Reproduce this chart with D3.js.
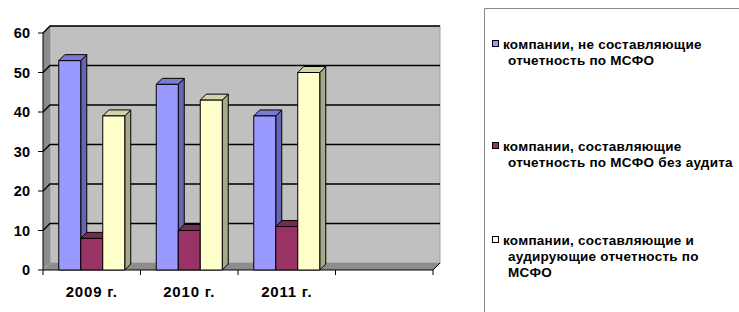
<!DOCTYPE html>
<html lang="ru">

<head>
    <meta charset="UTF-8">
    <title>Компании и МСФО</title>
    <script src="https://d3js.org/d3.v7.min.js"></script>
</head>
<style>
    body {
        margin: 0;
        background: #fff;
    }

    text {
        font-family: "Liberation Sans", Arial, sans-serif;
        font-weight: bold;
        fill: #000;
    }
</style>

<body>
    <svg id="chart"></svg>

    <script>
        // data
        var categories = ["2009 г.", "2010 г.", "2011 г.", " "];
        var seriesNames = [
            "компании, не составляющие отчетность по МСФО",
            "компании, составляющие отчетность по МСФО без аудита",
            "компании, составляющие и аудирующие отчетность по МСФО"
        ];
        var notIfrs = [53, 47, 39, null];
        var ifrsNoAudit = [8, 10, 11, null];
        var ifrsAudit = [39, 43, 50, null];
        var yTicks = [0, 10, 20, 30, 40, 50, 60];
        // legend lines as wrapped in the original
        var legendLines = [
            ["компании, не составляющие", "отчетность по МСФО"],
            ["компании, составляющие", "отчетность по МСФО без аудита"],
            ["компании, составляющие и", "аудирующие отчетность по", "МСФО"]
        ];

        var series = [notIfrs, ifrsNoAudit, ifrsAudit];
        var colors = [{
            front: "#9999ff",
            side: "#6666b3",
            top: "#7b7bd6"
        }, {
            front: "#993366",
            side: "#6b2447",
            top: "#7a2952"
        }, {
            front: "#ffffcc",
            side: "#a8a88a",
            top: "#d4d4aa"
        }];

        var W = 739,
            H = 312;
        var svg = d3.select("#chart").attr("width", W).attr("height", H);

        // 3d depth offsets
        var wallD = 7,
            barD = 6;

        var x = d3.scaleBand().domain(categories).range([43, 433]);
        var groupW = 66;
        var x1 = d3.scaleBand().domain(d3.range(series.length)).range([0, groupW]);
        var y = d3.scaleLinear().domain([0, 60]).range([270, 33]);

        var y0 = y(0),
            yTop = y(60),
            xL = x.range()[0],
            xR = x.range()[1];

        // back wall
        svg.append("rect")
            .attr("x", xL + wallD).attr("y", yTop - wallD)
            .attr("width", xR - xL).attr("height", y0 - yTop)
            .attr("fill", "#c0c0c0")
            .attr("stroke", "#a0a0a0");

        // side wall
        svg.append("path")
            .attr("d", "M" + xL + "," + yTop + "L" + (xL + wallD) + "," + (yTop - wallD) +
                "L" + (xL + wallD) + "," + (y0 - wallD) + "L" + xL + "," + y0 + "Z")
            .attr("fill", "#8c8c8c");

        // floor
        svg.append("path")
            .attr("d", "M" + xL + "," + y0 + "L" + (xL + wallD) + "," + (y0 - wallD) +
                "L" + (xR + wallD) + "," + (y0 - wallD) + "L" + xR + "," + y0 + "Z")
            .attr("fill", "#8c8c8c");
        svg.append("line")
            .attr("x1", xR).attr("y1", y0).attr("x2", xR + wallD).attr("y2", y0 - wallD)
            .attr("stroke", "#000");

        // gridlines
        var grid = svg.append("g").attr("stroke", "#000").attr("stroke-width", 1.3).attr("fill", "none");
        yTicks.filter(function(t) {
            return t > 0;
        }).forEach(function(t) {
            grid.append("path")
                .attr("d", "M" + xL + "," + y(t) + "L" + (xL + wallD) + "," + (y(t) - wallD) +
                    "L" + (xR + wallD) + "," + (y(t) - wallD));
        });

        // axis lines and ticks
        var ax = svg.append("g").attr("stroke", "#000").attr("stroke-width", 1);
        ax.append("line").attr("x1", xL).attr("y1", yTop).attr("x2", xL).attr("y2", y0);
        ax.append("line").attr("x1", xL).attr("y1", y0).attr("x2", xR).attr("y2", y0);
        yTicks.forEach(function(t) {
            ax.append("line").attr("x1", xL - 5).attr("x2", xL).attr("y1", y(t)).attr("y2", y(t));
        });
        categories.map(function(c) {
            return x(c);
        }).concat([xR]).forEach(function(px) {
            ax.append("line").attr("x1", px).attr("x2", px).attr("y1", y0).attr("y2", y0 + 5);
        });

        // y labels
        svg.append("g").selectAll("text")
            .data(yTicks)
            .enter().append("text")
            .attr("x", 30)
            .attr("y", function(d) {
                return y(d);
            })
            .attr("dy", "0.36em")
            .attr("text-anchor", "end")
            .attr("font-size", 14.5)
            .text(function(d) {
                return d;
            });

        // category labels
        svg.append("g").selectAll("text")
            .data(categories)
            .enter().append("text")
            .attr("x", function(d) {
                return x(d) + x.bandwidth() / 2;
            })
            .attr("y", 297)
            .attr("text-anchor", "middle")
            .attr("font-size", 15)
            .attr("letter-spacing", 0.8)
            .text(function(d) {
                return d;
            });

        // bars, drawn left to right so neighbours overlap side faces
        var bars = svg.append("g").attr("stroke", "#000").attr("stroke-width", 1).attr("stroke-linejoin", "round");
        var off = (x.bandwidth() - groupW) / 2;
        categories.forEach(function(c, ci) {
            series.forEach(function(s, si) {
                var v = s[ci];
                if (v == null) return;
                var bx = x(c) + off + x1(si),
                    bw = x1.bandwidth(),
                    by = y(v),
                    col = colors[si];
                // side
                bars.append("path")
                    .attr("d", "M" + (bx + bw) + "," + by + "L" + (bx + bw + barD) + "," + (by - barD) +
                        "L" + (bx + bw + barD) + "," + (y0 - barD) + "L" + (bx + bw) + "," + y0 + "Z")
                    .attr("fill", col.side);
                // top
                bars.append("path")
                    .attr("d", "M" + bx + "," + by + "L" + (bx + barD) + "," + (by - barD) +
                        "L" + (bx + bw + barD) + "," + (by - barD) + "L" + (bx + bw) + "," + by + "Z")
                    .attr("fill", col.top);
                // front
                bars.append("rect")
                    .attr("x", bx).attr("y", by)
                    .attr("width", bw).attr("height", y0 - by)
                    .attr("fill", col.front);
            });
        });

        // legend
        svg.append("path")
            .attr("d", "M" + 484.5 + "," + (H + 2) + "V" + 8.5 + "H" + (W + 2))
            .attr("fill", "none")
            .attr("stroke", "#888");

        var legendY = [44, 146, 240];
        var lg = svg.append("g");
        legendLines.forEach(function(lines, i) {
            lg.append("rect")
                .attr("x", 492.5).attr("y", legendY[i] - 3.5)
                .attr("width", 6).attr("height", 6)
                .attr("fill", colors[i].front)
                .attr("stroke", "#000")
                .attr("stroke-width", 1);
            lines.forEach(function(t, j) {
                lg.append("text")
                    .attr("x", j === 0 ? 503 : 508)
                    .attr("y", legendY[i] + j * 16)
                    .attr("dy", "0.36em")
                    .attr("font-size", 13.5)
                    .attr("letter-spacing", 0.25)
                    .text(t);
            });
        });
    </script>
</body>

</html>
